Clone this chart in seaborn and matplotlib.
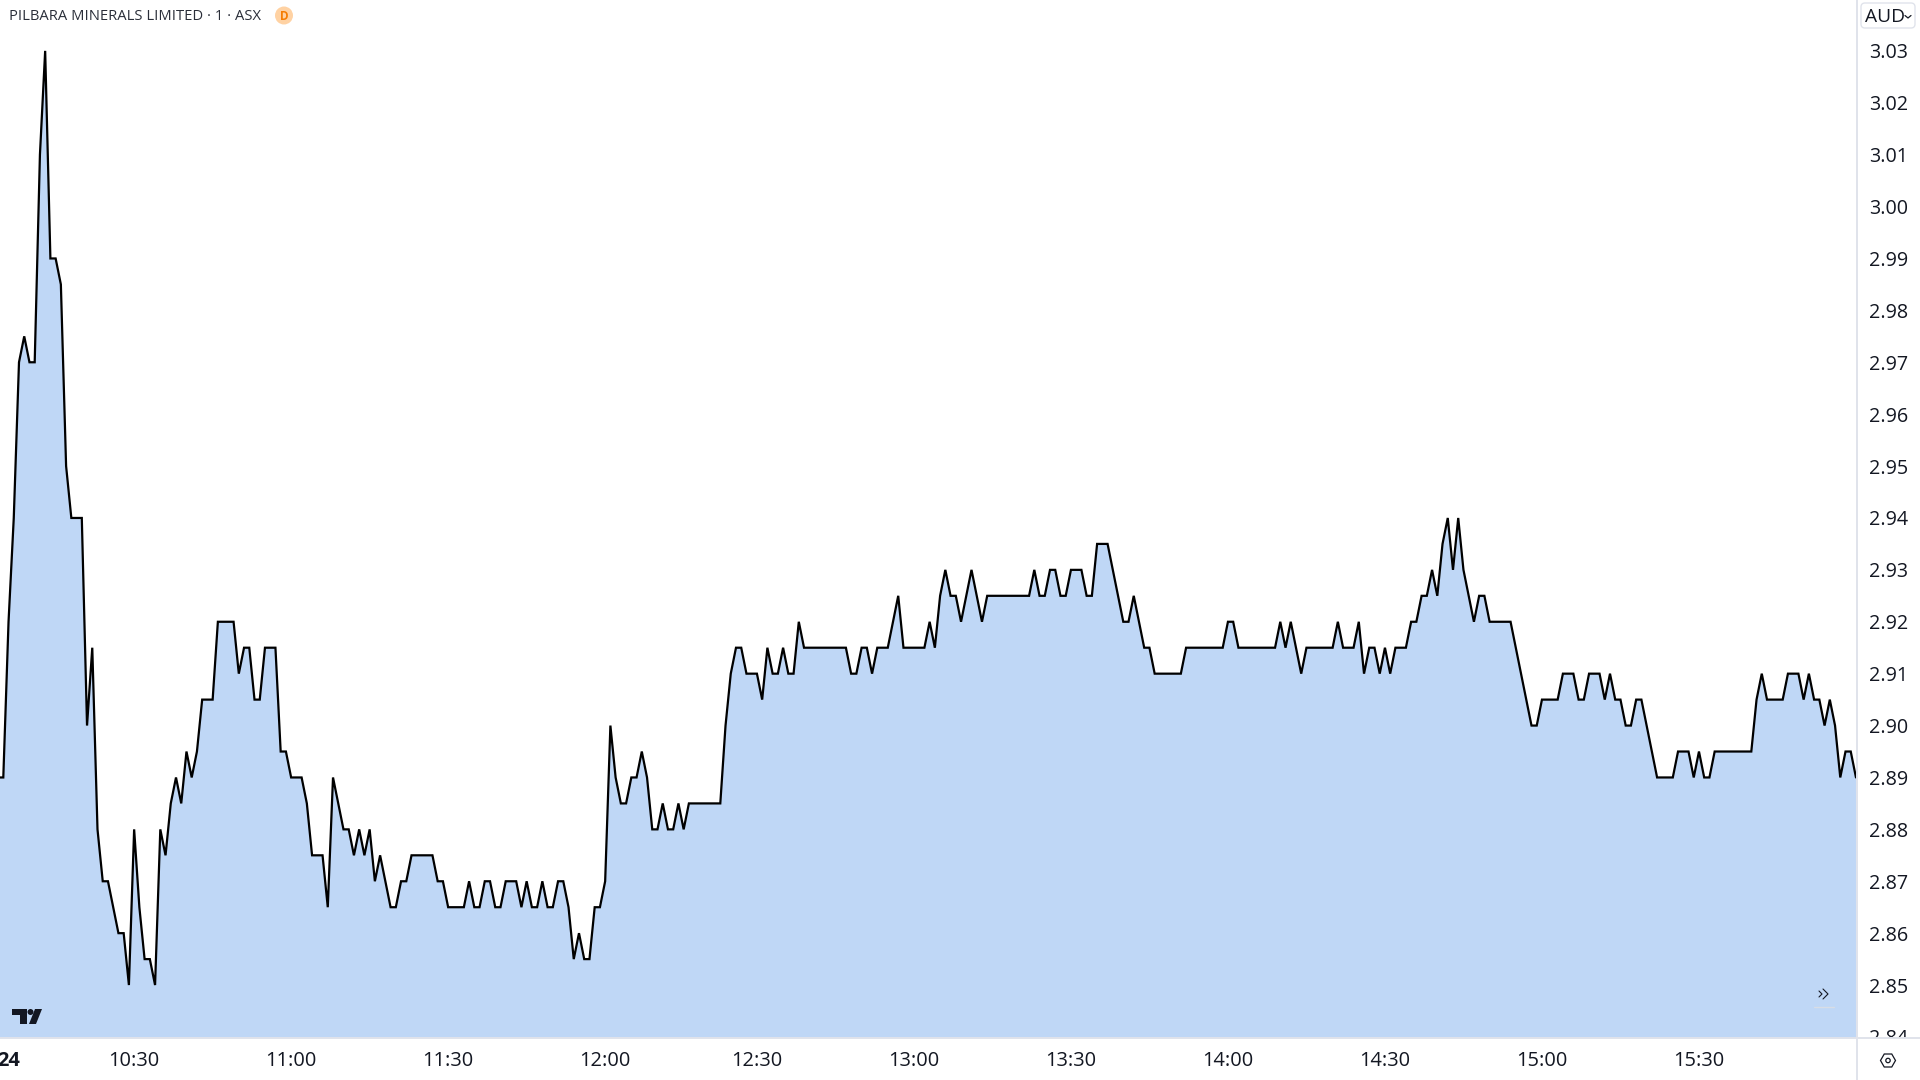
import matplotlib
matplotlib.use("Agg")
import matplotlib.pyplot as plt
import matplotlib.patches as mpatches
from matplotlib.transforms import Bbox, IdentityTransform
import pandas as pd
import seaborn as sns

# ── Data: one close per 1-minute bar ──
prices = [
    2.89, 2.89, 2.92, 2.94, 2.97, 2.975, 2.97, 2.97, 3.01, 3.03,
    2.99, 2.99, 2.985, 2.95, 2.94, 2.94, 2.94, 2.90, 2.915, 2.88, 2.87,
    2.87, 2.865, 2.86, 2.86, 2.85, 2.88, 2.865, 2.855, 2.855, 2.85,
    2.88, 2.875, 2.885, 2.89, 2.885, 2.895, 2.89, 2.895, 2.905, 2.905,
    2.905, 2.92, 2.92, 2.92, 2.92, 2.91, 2.915, 2.915, 2.905, 2.905,
    2.915, 2.915, 2.915, 2.895, 2.895, 2.89, 2.89, 2.89, 2.885, 2.875,
    2.875, 2.875, 2.865, 2.89, 2.885, 2.88, 2.88, 2.875, 2.88, 2.875,
    2.88, 2.87, 2.875, 2.87, 2.865, 2.865, 2.87, 2.87, 2.875, 2.875,
    2.875, 2.875, 2.875, 2.87, 2.87, 2.865, 2.865, 2.865, 2.865, 2.87,
    2.865, 2.865, 2.87, 2.87, 2.865, 2.865, 2.87, 2.87, 2.87, 2.865,
    2.87, 2.865, 2.865, 2.87, 2.865, 2.865, 2.87, 2.87, 2.865, 2.855,
    2.86, 2.855, 2.855, 2.865, 2.865, 2.87, 2.90, 2.89, 2.885, 2.885,
    2.89, 2.89, 2.895, 2.89, 2.88, 2.88, 2.885, 2.88, 2.88, 2.885,
    2.88, 2.885, 2.885, 2.885, 2.885, 2.885, 2.885, 2.885, 2.90, 2.91,
    2.915, 2.915, 2.91, 2.91, 2.91, 2.905, 2.915, 2.91, 2.91, 2.915,
    2.91, 2.91, 2.92, 2.915, 2.915, 2.915, 2.915, 2.915, 2.915, 2.915,
    2.915, 2.915, 2.91, 2.91, 2.915, 2.915, 2.91, 2.915, 2.915, 2.915,
    2.92, 2.925, 2.915, 2.915, 2.915, 2.915, 2.915, 2.92, 2.915, 2.925,
    2.93, 2.925, 2.925, 2.92, 2.925, 2.93, 2.925, 2.92, 2.925, 2.925,
    2.925, 2.925, 2.925, 2.925, 2.925, 2.925, 2.925, 2.93, 2.925, 2.925,
    2.93, 2.93, 2.925, 2.925, 2.93, 2.93, 2.93, 2.925, 2.925, 2.935,
    2.935, 2.935, 2.93, 2.925, 2.92, 2.92, 2.925, 2.92, 2.915, 2.915,
    2.91, 2.91, 2.91, 2.91, 2.91, 2.91, 2.915, 2.915, 2.915, 2.915,
    2.915, 2.915, 2.915, 2.915, 2.92, 2.92, 2.915, 2.915, 2.915, 2.915,
    2.915, 2.915, 2.915, 2.915, 2.92, 2.915, 2.92, 2.915, 2.91, 2.915,
    2.915, 2.915, 2.915, 2.915, 2.915, 2.92, 2.915, 2.915, 2.915, 2.92,
    2.91, 2.915, 2.915, 2.91, 2.915, 2.91, 2.915, 2.915, 2.915, 2.92,
    2.92, 2.925, 2.925, 2.93, 2.925, 2.935, 2.94, 2.93, 2.94, 2.93,
    2.925, 2.92, 2.925, 2.925, 2.92, 2.92, 2.92, 2.92, 2.92, 2.915,
    2.91, 2.905, 2.90, 2.90, 2.905, 2.905, 2.905, 2.905, 2.91, 2.91,
    2.91, 2.905, 2.905, 2.91, 2.91, 2.91, 2.905, 2.91, 2.905, 2.905,
    2.90, 2.90, 2.905, 2.905, 2.90, 2.895, 2.89, 2.89, 2.89, 2.89,
    2.895, 2.895, 2.895, 2.89, 2.895, 2.89, 2.89, 2.895, 2.895, 2.895,
    2.895, 2.895, 2.895, 2.895, 2.895, 2.905, 2.91, 2.905, 2.905, 2.905,
    2.905, 2.91, 2.91, 2.91, 2.905, 2.91, 2.905, 2.905, 2.90, 2.905,
    2.90, 2.89, 2.895, 2.895, 2.89,
]
bars = list(range(len(prices)))

# bar index of every time label, 12:00-12:30 has one minute missing
time_bars = [2, 26, 56, 86, 116, 145, 175, 205, 235, 265, 295, 325]
time_labels = ["24", "10:30", "11:00", "11:30", "12:00", "12:30", "13:00",
               "13:30", "14:00", "14:30", "15:00", "15:30"]
price_ticks = [2.84, 2.85, 2.86, 2.87, 2.88, 2.89, 2.90, 2.91, 2.92, 2.93,
               2.94, 2.95, 2.96, 2.97, 2.98, 2.99, 3.00, 3.01, 3.02, 3.03]

df = pd.DataFrame({"bar": bars, "price": prices})

W, H = 1920, 1080
PANE_R, PANE_B = 1856.5, 1038
TEXT = "#131722"
BORDER = "#e0e3eb"
FILL = "#bfd7f6"

sns.set_theme(style="white")
plt.rcParams["font.family"] = ["Open Sans", "DejaVu Sans"]

fig = plt.figure(figsize=(W / 100, H / 100), dpi=100, facecolor="white")
ax = fig.add_axes([0, (H - PANE_B) / H, PANE_R / W, PANE_B / H])

sns.lineplot(data=df, x="bar", y="price", color="black", linewidth=1.6,
             estimator=None, errorbar=None, sort=False, ax=ax, zorder=3,
             solid_joinstyle="miter")
ax.fill_between(df["bar"], df["price"], 2.80, color=FILL, linewidth=0, zorder=2)

ax.set_xlim(0.37, 355.1)
ax.set_ylim(2.8398, 3.0398)
ax.set_xlabel("")
ax.set_ylabel("")

ax.yaxis.tick_right()
ax.set_yticks(price_ticks, [f"{p:.2f}" for p in price_ticks])
ax.set_xticks(time_bars, time_labels)
ax.tick_params(axis="y", length=0, pad=8.8, labelsize=14.2, labelcolor=TEXT)
ax.tick_params(axis="x", length=0, pad=9.2, labelsize=14.4, labelcolor=TEXT)
ax.get_xticklabels()[0].set_fontweight("bold")

# the 2.84 label gets cut by the time axis
clip = Bbox([[PANE_R, H - PANE_B], [W, H]])
for lab in ax.get_yticklabels():
    lab.set_clip_box(clip)
    lab.set_clip_on(True)

for side in ["top", "left"]:
    ax.spines[side].set_visible(False)
for side in ["right", "bottom"]:
    ax.spines[side].set_color(BORDER)
    ax.spines[side].set_linewidth(1.4)
    ax.spines[side].set_zorder(4)
fig.add_artist(plt.Line2D([PANE_R / W, PANE_R / W], [0, 1], color=BORDER, lw=1.4))
fig.add_artist(plt.Line2D([PANE_R / W, 1], [(H - PANE_B) / H] * 2, color=BORDER, lw=1.4))

# ── Header ──
px = IdentityTransform()


def ypx(y):
    return H - y


fig.text(9 / W, ypx(16.5) / H, "PILBARA MINERALS LIMITED · 1 · ASX", fontsize=10.6,
         color="#2a2e39", va="center", ha="left")
fig.add_artist(mpatches.Circle((284, ypx(15.5)), 9, transform=px, color="#ffd2a3", lw=0))
fig.text(284 / W, ypx(16) / H, "D", fontsize=8.5, color="#f57c00", ha="center",
         va="center", fontweight="bold")

fig.add_artist(mpatches.FancyBboxPatch((1863, ypx(26)), 50, 21, boxstyle="round,pad=2,rounding_size=4",
                                       transform=px, fc="white", ec=BORDER, lw=1.0))
fig.text(1865 / W, ypx(17) / H, "AUD", fontsize=13.8, color=TEXT, ha="left", va="center")
fig.add_artist(plt.Line2D([1905, 1908, 1911], [ypx(15.5), ypx(18), ypx(15.5)], transform=px,
                          color=TEXT, lw=0.9))

# ── Logo and small buttons ──
fig.add_artist(mpatches.Polygon([(12, ypx(1009)), (27, ypx(1009)), (27, ypx(1024)), (20, ypx(1024)),
                                 (20, ypx(1015)), (12, ypx(1015))], transform=px, color=TEXT, lw=0))
fig.add_artist(mpatches.Circle((30.5, ypx(1012)), 3, transform=px, color=TEXT, lw=0))
fig.add_artist(mpatches.Polygon([(35, ypx(1009)), (42, ypx(1009)), (36, ypx(1024)), (29, ypx(1024))],
                                transform=px, color=TEXT, lw=0))

fig.add_artist(plt.Line2D([1819, 1822, 1819], [ypx(991), ypx(994), ypx(997)], transform=px,
                          color=TEXT, lw=0.8))
fig.add_artist(plt.Line2D([1823, 1828, 1823], [ypx(989), ypx(994), ypx(999)], transform=px,
                          color=TEXT, lw=0.8))
fig.add_artist(plt.Line2D([1814, 1834], [ypx(1007), ypx(1007)], transform=px,
                          color="#d8dde6", lw=1.0))

fig.add_artist(mpatches.RegularPolygon((1888, ypx(1060.5)), 6, radius=7.5, orientation=1.5708,
                                       transform=px, fc="none", ec=TEXT, lw=0.9))
fig.add_artist(mpatches.Circle((1888, ypx(1060.5)), 2.2, transform=px, fc="none", ec=TEXT, lw=0.9))

plt.savefig("out.png", dpi=100)
print(len(prices))
